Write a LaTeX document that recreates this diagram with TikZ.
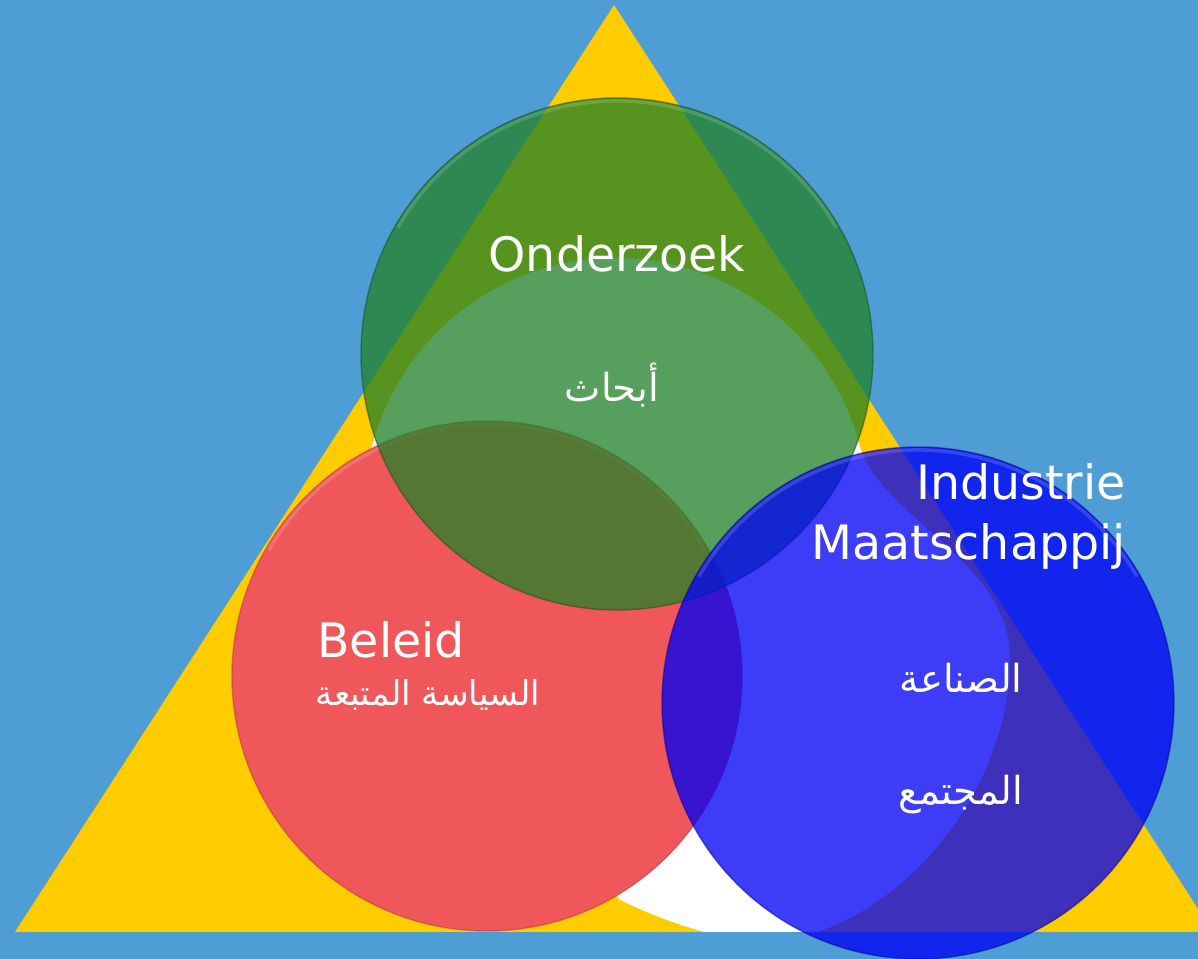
\documentclass[tikz,border=0pt]{standalone}
\usepackage{fontspec}
\setmainfont{DejaVu Sans}
\newfontfamily\arabicfont[Script=Arabic]{DejaVu Sans}
\TeXXeTstate=1
\definecolor{skyback}{RGB}{79,157,213}
\definecolor{triyellow}{RGB}{255,204,0}
\definecolor{ringgreen}{RGB}{35,130,41}
\definecolor{ringred}{RGB}{240,87,90}
\definecolor{ringblue}{RGB}{0,0,245}
\begin{document}
\begin{tikzpicture}[x=0.02cm,y=0.02cm]
\tikzset{ring/.style={fill opacity=0.76,draw opacity=0.5,line width=0.8pt},
  gloss/.style={white,opacity=0.15,line width=2pt},
  latintxt/.style={text=white,inner sep=0pt,font=\fontsize{27}{31}\selectfont},
  arabtxt/.style={text=white,inner sep=0pt,font=\arabicfont\fontsize{22}{26}\selectfont}}
\useasboundingbox (0,0) rectangle (1198,959);
\clip (0,0) rectangle (1198,959);
\fill [skyback] (0,0) rectangle (1198,959);
\fill [triyellow] (614,954) -- (15,27) -- (1213,27) -- cycle;
\begin{scope}
\clip (614,954) -- (15,27) -- (1213,27) -- cycle;
\fill [white] (364,449) arc (180:15:252) .. controls (880,440) and (1010,400) .. (1010,300)
  .. controls (1010,170) and (900,25) .. (760,15) .. controls (700,25) and (660,40) .. (620,59)
  -- (470,250) -- cycle;
\end{scope}
% three circles
\filldraw [fill=ringred,draw=ringred!70!black,draw opacity=0.5,line width=0.8pt] (487,283) circle (255);
\draw [gloss] (487,283) ++(30:252) arc (30:150:252);
\filldraw [ring,fill=ringgreen,draw=ringgreen!60!black] (617,605) circle (256);
\draw [gloss] (617,605) ++(30:253) arc (30:150:253);
\filldraw [ring,fill=ringblue,draw=ringblue!60!black] (918,256) circle (256);
\draw [gloss] (918,256) ++(30:253) arc (30:150:253);
% labels
\node [latintxt,anchor=base] (onderzoek) at (617,687) {Onderzoek};
\node [arabtxt] (abhath) at (612,574) {\beginR أبحاث\endR};
\node [latintxt,anchor=base east] (industrie) at (1126,459) {Industrie};
\node [latintxt,anchor=base east] (maatschappij) at (1126,399) {Maatschappij};
\node [latintxt,anchor=base west] (beleid) at (317,301) {Beleid};
\node [arabtxt,font=\arabicfont\fontsize{19.5}{24}\selectfont] (siyasa) at (428,264) {\beginR السياسة المتبعة\endR};
\node [arabtxt] (sinaa) at (961,281) {\beginR الصناعة\endR};
\node [arabtxt] (mujtama) at (961,164) {\beginR المجتمع\endR};
\end{tikzpicture}
\end{document}
